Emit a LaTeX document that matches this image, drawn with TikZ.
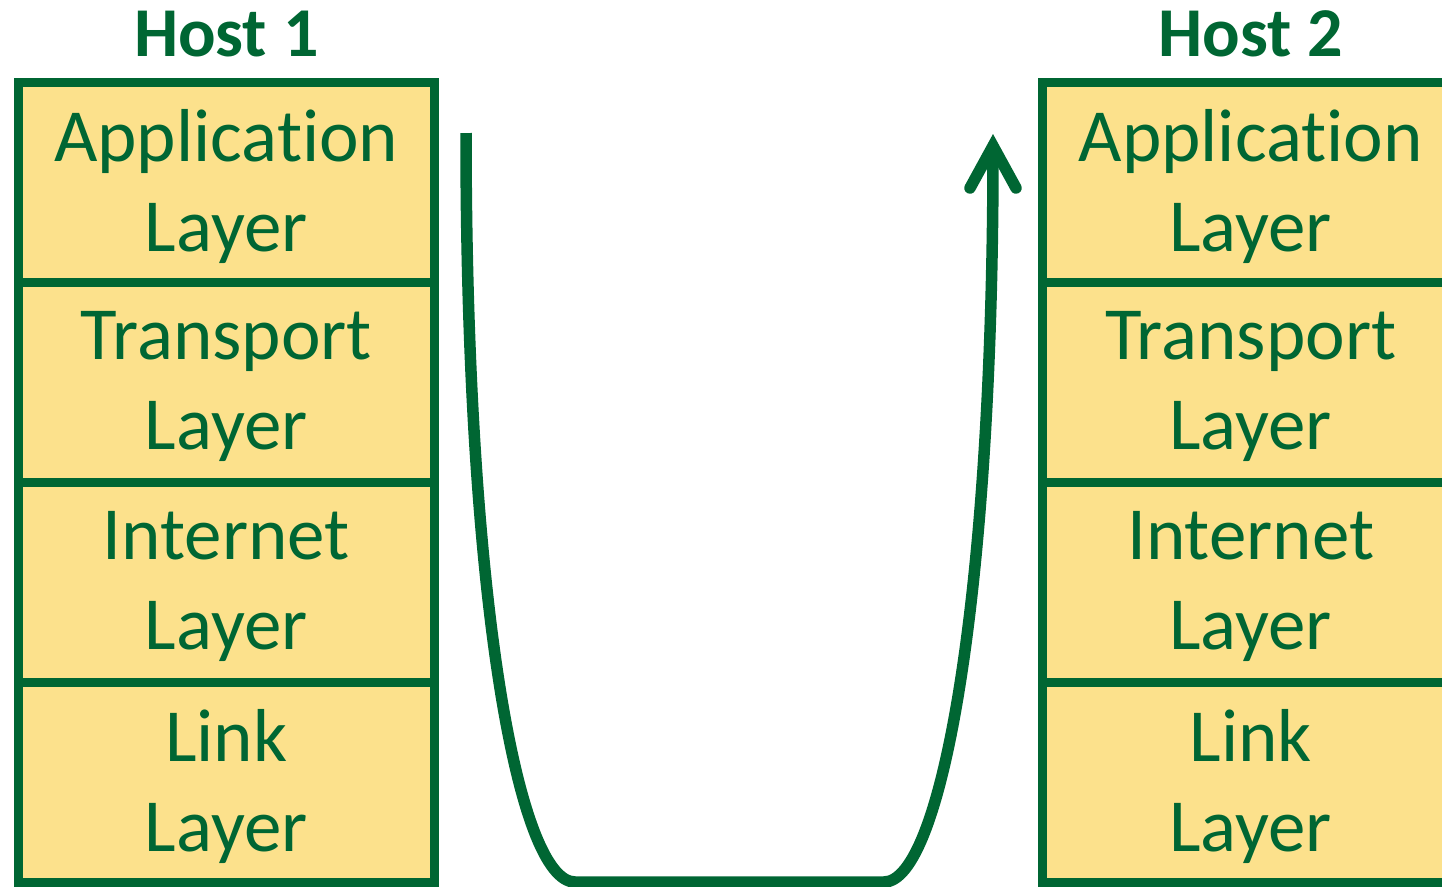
\documentclass[tikz,border=0pt]{standalone}
\usepackage{fontspec}
\setmainfont{Carlito}[RawFeature={-liga}]
\usetikzlibrary{positioning, arrows.meta}
\definecolor{hostgreen}{HTML}{006633}
\definecolor{layerfill}{HTML}{FCE18C}

\begin{document}
\begin{tikzpicture}[
  x=1pt, y=-1pt,
  node distance=0pt,
  layer/.style={draw=hostgreen, line width=9pt, fill=layerfill, text=hostgreen, minimum width=416.5pt, minimum height=200pt, outer sep=0pt, inner sep=0pt, align=center, text depth=3pt, font=\fontsize{75}{90}\selectfont},
  host/.style={text=hostgreen, inner sep=0pt, font=\bfseries\fontsize{70}{84}\selectfont},
  line/.style={draw=hostgreen, line width=11.5pt, -{Straight Barb[length=42pt, width=46pt, line cap=round]}}
]
\useasboundingbox (0,0) rectangle (1442,886);

% Host 1 stack
\node[layer] (app1) at (226.25,182) {Application\\Layer};
\node[layer, below=of app1] (trans1) {Transport\\Layer};
\node[layer, below=of trans1] (inet1) {Internet\\Layer};
\node[layer, below=of inet1] (link1) {Link\\Layer};
\node[host, above=25pt of app1] (host1) {Host 1};

% Host 2 stack
\node[layer, right=608pt of app1] (app2) {Application\\Layer};
\node[layer, below=of app2] (trans2) {Transport\\Layer};
\node[layer, below=of trans2] (inet2) {Internet\\Layer};
\node[layer, below=of inet2] (link2) {Link\\Layer};
\node[host, above=25pt of app2] (host2) {Host 2};

% path down one stack and up the other
\coordinate (src) at (466,133);
\coordinate (low1) at (575,882);
\coordinate (low2) at (884,882);
\coordinate (dst) at (993,134);
\draw[line] (src) .. controls (466,600) and (518,882) .. (low1) -- (low2)
  .. controls (941,882) and (993,600) .. (dst);

\end{tikzpicture}
\end{document}
